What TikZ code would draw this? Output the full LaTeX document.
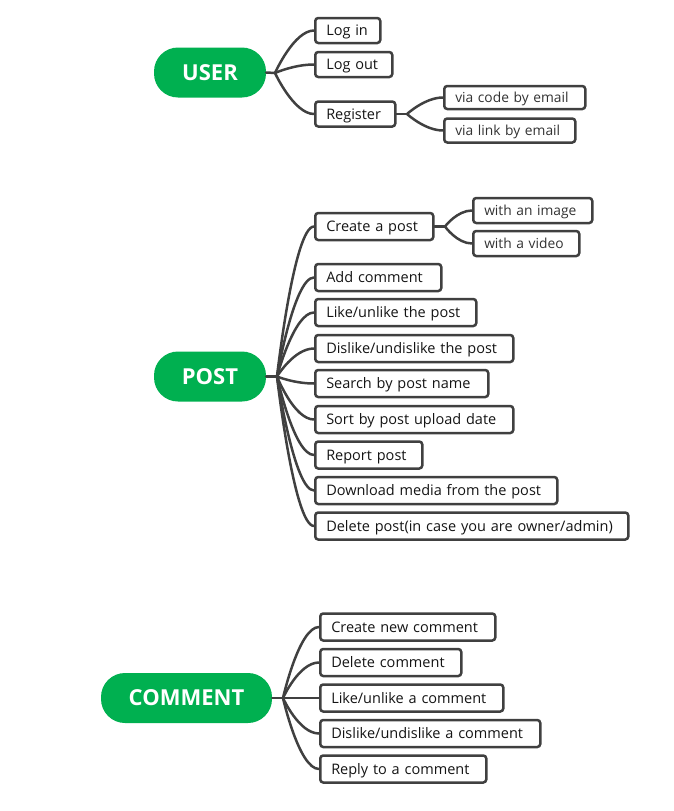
\documentclass[tikz,border=0pt]{standalone}
\usepackage{fontspec}
\setmainfont{Open Sans}
\usetikzlibrary{calc}
\definecolor{pillgreen}{RGB}{0,176,80}
\definecolor{linec}{RGB}{64,64,64}
\definecolor{textc}{RGB}{20,20,20}
\definecolor{subtextc}{RGB}{50,50,50}
\begin{document}
\begin{tikzpicture}[x=1pt,y=-1pt,
  pill/.style={fill=pillgreen, text=white, rounded corners=24pt, minimum height=50pt,
    inner sep=0pt, font=\fontsize{22}{26}\selectfont\bfseries},
  box/.style={draw=linec, line width=2.5pt, rounded corners=3pt, anchor=west,
    inner xsep=11pt, inner ysep=0pt, minimum height=26pt, align=left, text=textc,
    text height=10.4pt, text depth=0pt,
    font=\fontsize{14.5}{17}\selectfont},
  subbox/.style={box, minimum height=24pt, text=subtextc, text height=9.9pt,
    font=\fontsize{13.8}{16}\selectfont},
  conn/.style={draw=linec, line width=2.5pt, line cap=round},
  branch/.style={to path={.. controls (\tikztostart) and ([xshift=-#1]\tikztotarget) .. (\tikztotarget)}},
  branch/.default=20pt
]
\useasboundingbox (0,0) rectangle (673,811);

% ---------------- USER ----------------
\node[pill, minimum width=112pt] (user) at (210,72.5) {USER};
\coordinate (uf) at (275,73);
\node[box, minimum height=25pt, text width=43pt] (login) at (314,30.5) {Log in};
\node[box, minimum height=25pt, text width=55pt] (logout) at (314,64.5) {Log out};
\node[box, minimum height=25pt, text width=58pt] (register) at (314,114) {Register};
\coordinate (rf) at (407,114);
\node[subbox, minimum height=23pt, text width=119pt] (viacode) at (443,97.5) {via code by email};
\node[subbox, text width=109pt] (vialink) at (443,130.5) {via link by email};

\draw[conn] (user.east) -- (uf);
\draw[conn] (uf) to[branch] (login.west);
\draw[conn] (uf) to[branch] (logout.west);
\draw[conn] (uf) to[branch] (register.west);
\draw[conn] (register.east) -- (rf);
\draw[conn] (rf) to[branch=18pt] (viacode.west);
\draw[conn] (rf) to[branch=18pt] (vialink.west);

% ---------------- POST ----------------
\node[pill, minimum width=112pt] (post) at (210,376.5) {POST};
\coordinate (pf) at (277,376.5);
\node[box, minimum height=27pt, text width=96pt] (create) at (314,226.5) {Create a post};
\coordinate (cf) at (445,226.5);
\node[subbox, minimum height=25pt, text width=97pt] (withimg) at (472,210.5) {with an image};
\node[subbox, minimum height=25pt, text width=84pt] (withvid) at (472,243.5) {with a video};
\node[box, minimum height=27pt, text width=104pt] (addc) at (314,277.5) {Add comment};
\node[box, minimum height=27pt, text width=139pt] (likep) at (314,312.5) {Like/unlike the post};
\node[box, minimum height=27pt, text width=176pt] (dislikep) at (314,348.5) {Dislike/undislike the post};
\node[box, minimum height=27pt, text width=151pt] (search) at (314,383.5) {Search by post name};
\node[box, minimum height=27pt, text width=176pt] (sort) at (314,419.5) {Sort by post upload date};
\node[box, minimum height=27pt, text width=85pt] (report) at (314,455) {Report post};
\node[box, minimum height=27pt, text width=220pt] (download) at (314,490.5) {Download media from the post};
\node[box, minimum height=27pt, text width=291pt] (delete) at (314,526) {Delete post(in case you are owner/admin)};

\draw[conn] (post.east) -- (pf);
\foreach \n in {create,addc,likep,dislikep,search,sort,report,download,delete}
  \draw[conn] (pf) to[branch] (\n.west);
\draw[conn] (create.east) -- (cf);
\draw[conn] (cf) to[branch=15pt] (withimg.west);
\draw[conn] (cf) to[branch=15pt] (withvid.west);

% ---------------- COMMENT ----------------
\node[pill, minimum width=171pt] (comment) at (186.5,698) {COMMENT};
\coordinate (kf) at (283,698);
\node[box, minimum height=27pt, text width=153pt] (cnew) at (319,627) {Create new comment};
\node[box, minimum height=27pt, text width=119pt] (cdel) at (319,662.5) {Delete comment};
\node[box, minimum height=27pt, text width=161pt] (clike) at (319,698) {Like/unlike a comment};
\node[box, minimum height=27pt, text width=198pt] (cdis) at (319,733.5) {Dislike/undislike a comment};
\node[box, minimum height=27pt, text width=144pt] (creply) at (319,769) {Reply to a comment};

\draw[conn] (comment.east) -- (kf);
\foreach \n in {cnew,cdel,clike,cdis,creply}
  \draw[conn] (kf) to[branch] (\n.west);
\end{tikzpicture}
\end{document}
